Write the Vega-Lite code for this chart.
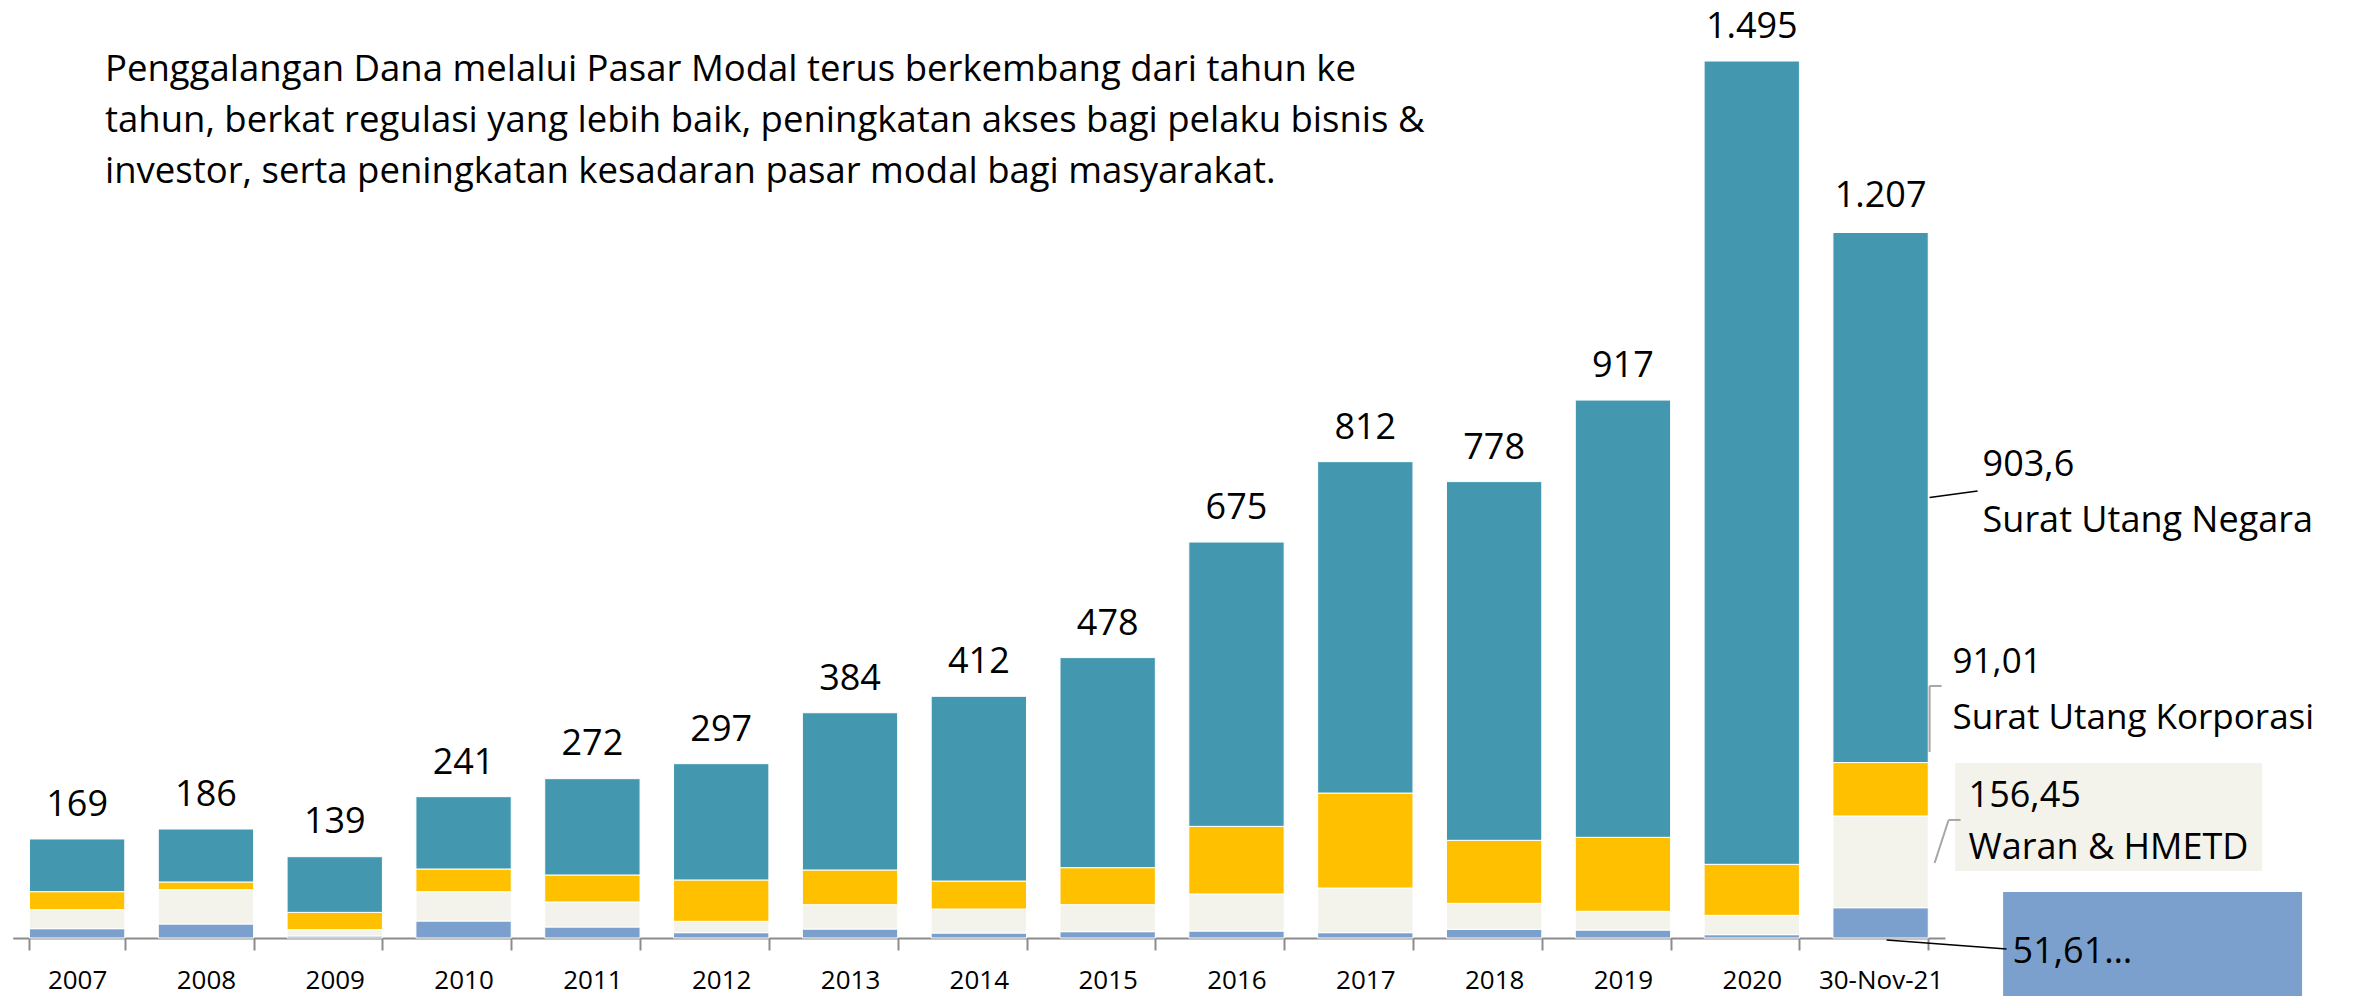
{
  "$schema": "https://vega.github.io/schema/vega-lite/v6.json",
  "width": 2354,
  "height": 996,
  "padding": 0,
  "autosize": {"type": "none"},
  "background": "white",
  "config": {
    "view": {"stroke": null},
    "font": "Open Sans",
    "locale": {"number": {"decimal": ",", "thousands": ".", "grouping": [3], "currency": ["Rp", ""]}}
  },
  "title": {
    "text": [
      "Penggalangan Dana melalui Pasar Modal terus berkembang dari tahun ke",
      "tahun, berkat regulasi yang lebih baik, peningkatan akses bagi pelaku bisnis &",
      "investor, serta peningkatan kesadaran pasar modal bagi masyarakat."
    ],
    "anchor": "start",
    "frame": "group",
    "orient": "top",
    "offset": 0,
    "dx": 105,
    "dy": 219,
    "baseline": "alphabetic",
    "fontSize": 36.5,
    "lineHeight": 51,
    "fontWeight": "normal",
    "color": "black",
    "font": "Open Sans"
  },
  "datasets": {
    "seg": [
      {"year": "2007", "series": "Saham", "order": 1, "value": 15.9},
      {"year": "2007", "series": "Waran & HMETD", "order": 2, "value": 32.4},
      {"year": "2007", "series": "Surat Utang Korporasi", "order": 3, "value": 30.7},
      {"year": "2007", "series": "Surat Utang Negara", "order": 4, "value": 89.8},
      {"year": "2008", "series": "Saham", "order": 1, "value": 23.9},
      {"year": "2008", "series": "Waran & HMETD", "order": 2, "value": 58.5},
      {"year": "2008", "series": "Surat Utang Korporasi", "order": 3, "value": 13.1},
      {"year": "2008", "series": "Surat Utang Negara", "order": 4, "value": 90.3},
      {"year": "2009", "series": "Saham", "order": 1, "value": 3.4},
      {"year": "2009", "series": "Waran & HMETD", "order": 2, "value": 10.8},
      {"year": "2009", "series": "Surat Utang Korporasi", "order": 3, "value": 29.5},
      {"year": "2009", "series": "Surat Utang Negara", "order": 4, "value": 94.9},
      {"year": "2010", "series": "Saham", "order": 1, "value": 29.0},
      {"year": "2010", "series": "Waran & HMETD", "order": 2, "value": 50.0},
      {"year": "2010", "series": "Surat Utang Korporasi", "order": 3, "value": 38.6},
      {"year": "2010", "series": "Surat Utang Negara", "order": 4, "value": 123.3},
      {"year": "2011", "series": "Saham", "order": 1, "value": 18.8},
      {"year": "2011", "series": "Waran & HMETD", "order": 2, "value": 42.6},
      {"year": "2011", "series": "Surat Utang Korporasi", "order": 3, "value": 46.0},
      {"year": "2011", "series": "Surat Utang Negara", "order": 4, "value": 164.2},
      {"year": "2012", "series": "Saham", "order": 1, "value": 9.1},
      {"year": "2012", "series": "Waran & HMETD", "order": 2, "value": 19.3},
      {"year": "2012", "series": "Surat Utang Korporasi", "order": 3, "value": 70.5},
      {"year": "2012", "series": "Surat Utang Negara", "order": 4, "value": 198.3},
      {"year": "2013", "series": "Saham", "order": 1, "value": 15.3},
      {"year": "2013", "series": "Waran & HMETD", "order": 2, "value": 41.5},
      {"year": "2013", "series": "Surat Utang Korporasi", "order": 3, "value": 59.1},
      {"year": "2013", "series": "Surat Utang Negara", "order": 4, "value": 268.1},
      {"year": "2014", "series": "Saham", "order": 1, "value": 8.5},
      {"year": "2014", "series": "Waran & HMETD", "order": 2, "value": 40.9},
      {"year": "2014", "series": "Surat Utang Korporasi", "order": 3, "value": 47.7},
      {"year": "2014", "series": "Surat Utang Negara", "order": 4, "value": 314.9},
      {"year": "2015", "series": "Saham", "order": 1, "value": 10.8},
      {"year": "2015", "series": "Waran & HMETD", "order": 2, "value": 46.0},
      {"year": "2015", "series": "Surat Utang Korporasi", "order": 3, "value": 63.1},
      {"year": "2015", "series": "Surat Utang Negara", "order": 4, "value": 358.1},
      {"year": "2016", "series": "Saham", "order": 1, "value": 11.9},
      {"year": "2016", "series": "Waran & HMETD", "order": 2, "value": 63.1},
      {"year": "2016", "series": "Surat Utang Korporasi", "order": 3, "value": 115.3},
      {"year": "2016", "series": "Surat Utang Negara", "order": 4, "value": 484.7},
      {"year": "2017", "series": "Saham", "order": 1, "value": 9.1},
      {"year": "2017", "series": "Waran & HMETD", "order": 2, "value": 76.1},
      {"year": "2017", "series": "Surat Utang Korporasi", "order": 3, "value": 161.9},
      {"year": "2017", "series": "Surat Utang Negara", "order": 4, "value": 564.9},
      {"year": "2018", "series": "Saham", "order": 1, "value": 14.8},
      {"year": "2018", "series": "Waran & HMETD", "order": 2, "value": 44.3},
      {"year": "2018", "series": "Surat Utang Korporasi", "order": 3, "value": 107.4},
      {"year": "2018", "series": "Surat Utang Negara", "order": 4, "value": 611.5},
      {"year": "2019", "series": "Saham", "order": 1, "value": 13.6},
      {"year": "2019", "series": "Waran & HMETD", "order": 2, "value": 31.9},
      {"year": "2019", "series": "Surat Utang Korporasi", "order": 3, "value": 126.1},
      {"year": "2019", "series": "Surat Utang Negara", "order": 4, "value": 745.4},
      {"year": "2020", "series": "Saham", "order": 1, "value": 5.7},
      {"year": "2020", "series": "Waran & HMETD", "order": 2, "value": 32.9},
      {"year": "2020", "series": "Surat Utang Korporasi", "order": 3, "value": 87.0},
      {"year": "2020", "series": "Surat Utang Negara", "order": 4, "value": 1369.4},
      {"year": "30-Nov-21", "series": "Saham", "order": 1, "value": 51.61},
      {"year": "30-Nov-21", "series": "Waran & HMETD", "order": 2, "value": 156.45},
      {"year": "30-Nov-21", "series": "Surat Utang Korporasi", "order": 3, "value": 91.01},
      {"year": "30-Nov-21", "series": "Surat Utang Negara", "order": 4, "value": 903.6}
    ],
    "tot": [
      {"year": "2007", "total": 169},
      {"year": "2008", "total": 186},
      {"year": "2009", "total": 139},
      {"year": "2010", "total": 241},
      {"year": "2011", "total": 272},
      {"year": "2012", "total": 297},
      {"year": "2013", "total": 384},
      {"year": "2014", "total": 412},
      {"year": "2015", "total": 478},
      {"year": "2016", "total": 675},
      {"year": "2017", "total": 812},
      {"year": "2018", "total": 778},
      {"year": "2019", "total": 917},
      {"year": "2020", "total": 1495},
      {"year": "30-Nov-21", "total": 1207}
    ]
  },
  "encoding": {
    "x": {
      "field": "year",
      "type": "nominal",
      "scale": {
        "domain": ["2007", "2008", "2009", "2010", "2011", "2012", "2013", "2014", "2015", "2016", "2017", "2018", "2019", "2020", "30-Nov-21"],
        "range": [12.7, 1945],
        "paddingInner": 0.26,
        "paddingOuter": 0.13
      },
      "axis": {
        "title": null,
        "labelAngle": 0,
        "labelFont": "Open Sans",
        "labelFontSize": 26,
        "labelColor": "black",
        "labelPadding": 17,
        "domainColor": "#8c8c8c",
        "domainWidth": 2,
        "tickColor": "#8c8c8c",
        "tickWidth": 2,
        "tickSize": 12,
        "tickBand": "extent",
        "offset": -58
      }
    }
  },
  "layer": [
    {
      "data": {"name": "seg"},
      "mark": {"type": "bar", "stroke": "white", "strokeWidth": 1},
      "encoding": {
        "y": {"field": "value", "type": "quantitative", "stack": "zero", "scale": {"domain": [0, 1599], "nice": false, "range": [938, 0]}, "axis": null},
        "color": {
          "field": "series",
          "type": "nominal",
          "scale": {
            "domain": ["Saham", "Waran & HMETD", "Surat Utang Korporasi", "Surat Utang Negara"],
            "range": ["#7BA0CD", "#F3F3EC", "#FFC000", "#4398B0"]
          },
          "legend": null
        },
        "order": {"field": "order", "type": "quantitative", "sort": "ascending"}
      }
    },
    {
      "data": {"name": "tot"},
      "mark": {"type": "text", "fontSize": 36, "baseline": "middle", "dy": -34, "color": "black"},
      "encoding": {
        "y": {"field": "total", "type": "quantitative"},
        "text": {"field": "total", "type": "quantitative", "format": ","}
      }
    },
    {
      "data": {"name": "seg"},
      "transform": [
        {"stack": "value", "groupby": ["year"], "sort": [{"field": "order", "order": "ascending"}], "as": ["y0", "y1"]},
        {"filter": "datum.year === '30-Nov-21'"}
      ],
      "layer": [
        {
          "transform": [{"filter": "datum.series === 'Surat Utang Negara'"}],
          "layer": [
            {
              "mark": {"type": "text", "align": "left", "baseline": "middle", "dx": 102, "dy": -297.6, "fontSize": 36, "color": "black"},
              "encoding": {"y": {"field": "y0", "type": "quantitative"}, "text": {"field": "value", "type": "quantitative", "format": ",.2~f"}}
            },
            {
              "mark": {"type": "text", "align": "left", "baseline": "middle", "dx": 102, "dy": -241.6, "fontSize": 36, "color": "black"},
              "encoding": {"y": {"field": "y0", "type": "quantitative"}, "text": {"field": "series"}}
            },
            {
              "mark": {"type": "rule", "color": "black", "strokeWidth": 1.5, "xOffset": 49, "x2Offset": 97, "yOffset": -265, "y2Offset": -271.6},
              "encoding": {"x2": {"field": "year"}, "y": {"field": "y0", "type": "quantitative"}, "y2": {"field": "y0"}}
            }
          ]
        },
        {
          "transform": [{"filter": "datum.series === 'Surat Utang Korporasi'"}],
          "layer": [
            {
              "mark": {"type": "text", "align": "left", "baseline": "middle", "dx": 72, "dy": -100.6, "fontSize": 35, "color": "black"},
              "encoding": {"y": {"field": "y1", "type": "quantitative"}, "text": {"field": "value", "type": "quantitative", "format": ",.2~f"}}
            },
            {
              "mark": {"type": "text", "align": "left", "baseline": "middle", "dx": 72, "dy": -44.6, "fontSize": 35, "color": "black"},
              "encoding": {"y": {"field": "y1", "type": "quantitative"}, "text": {"field": "series"}}
            },
            {
              "mark": {"type": "rule", "color": "#A6A6A6", "strokeWidth": 2, "xOffset": 49, "x2Offset": 49, "yOffset": -76.6, "y2Offset": -10.6},
              "encoding": {"x2": {"field": "year"}, "y": {"field": "y1", "type": "quantitative"}, "y2": {"field": "y1"}}
            },
            {
              "mark": {"type": "rule", "color": "#A6A6A6", "strokeWidth": 2, "xOffset": 49, "x2Offset": 61, "yOffset": -76.6, "y2Offset": -76.6},
              "encoding": {"x2": {"field": "year"}, "y": {"field": "y1", "type": "quantitative"}, "y2": {"field": "y1"}}
            }
          ]
        },
        {
          "transform": [{"filter": "datum.series === 'Waran & HMETD'"}],
          "layer": [
            {
              "mark": {"type": "bar", "color": "#F3F3EC", "width": 307, "xOffset": 228, "yOffset": -53, "y2Offset": 55},
              "encoding": {"y": {"field": "y1", "type": "quantitative"}, "y2": {"field": "y1"}}
            },
            {
              "mark": {"type": "text", "align": "left", "baseline": "middle", "dx": 88, "dy": -20, "fontSize": 36, "color": "black"},
              "encoding": {"y": {"field": "y1", "type": "quantitative"}, "text": {"field": "value", "type": "quantitative", "format": ",.2~f"}}
            },
            {
              "mark": {"type": "text", "align": "left", "baseline": "middle", "dx": 88, "dy": 32, "fontSize": 36, "color": "black"},
              "encoding": {"y": {"field": "y1", "type": "quantitative"}, "text": {"field": "series"}}
            },
            {
              "mark": {"type": "rule", "color": "#A6A6A6", "strokeWidth": 2, "xOffset": 54, "x2Offset": 68, "yOffset": 47, "y2Offset": 4},
              "encoding": {"x2": {"field": "year"}, "y": {"field": "y1", "type": "quantitative"}, "y2": {"field": "y1"}}
            },
            {
              "mark": {"type": "rule", "color": "#A6A6A6", "strokeWidth": 2, "xOffset": 68, "x2Offset": 80, "yOffset": 4, "y2Offset": 4},
              "encoding": {"x2": {"field": "year"}, "y": {"field": "y1", "type": "quantitative"}, "y2": {"field": "y1"}}
            }
          ]
        },
        {
          "transform": [{"filter": "datum.series === 'Saham'"}],
          "layer": [
            {
              "mark": {"type": "bar", "color": "#7BA0CD", "width": 299, "xOffset": 272, "yOffset": -46, "y2Offset": 74},
              "encoding": {"y": {"field": "y0", "type": "quantitative"}, "y2": {"field": "y0"}}
            },
            {
              "mark": {"type": "text", "align": "left", "baseline": "middle", "dx": 132, "dy": 14, "fontSize": 36, "color": "black"},
              "encoding": {"y": {"field": "y0", "type": "quantitative"}, "text": {"value": "51,61…"}}
            },
            {
              "mark": {"type": "rule", "color": "black", "strokeWidth": 1.5, "xOffset": 6, "x2Offset": 126, "yOffset": 2, "y2Offset": 11},
              "encoding": {"x2": {"field": "year"}, "y": {"field": "y0", "type": "quantitative"}, "y2": {"field": "y0"}}
            }
          ]
        }
      ]
    }
  ]
}
